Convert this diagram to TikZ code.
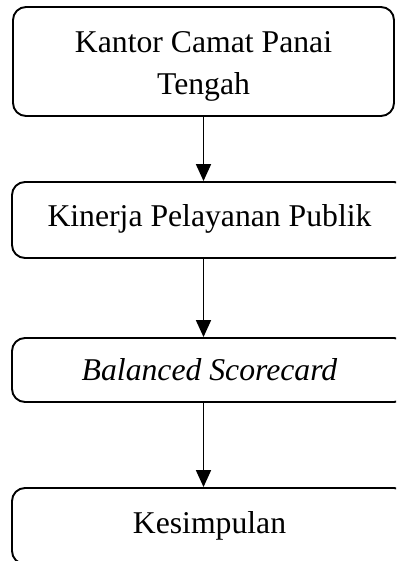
\documentclass[tikz,border=0pt]{standalone}
\usepackage{fontspec}
\setmainfont{Liberation Serif}
\usetikzlibrary{arrows.meta}
\begin{document}
\begin{tikzpicture}[x=1pt,y=-1pt,
  box/.style={draw, line width=1.9pt, rounded corners=13pt, inner sep=0pt},
  txt/.style={inner sep=0pt, align=center, font=\fontsize{31.7}{42}\selectfont},
  conn/.style={line width=1.8pt, -{Triangle[length=17pt,width=15pt]}}]
\useasboundingbox (0,0) rectangle (396,561);
\clip (0,0) rectangle (396,561);
\node[box, minimum width=381pt, minimum height=109pt] (b1) at (203.5,61.5) {};
\node[txt] (t1) at ([yshift=-5pt]b1.center) {Kantor Camat Panai\\Tengah};
\node[box, minimum width=395pt, minimum height=76pt] (b2) at (209.5,220) {};
\node[txt] (t2) at ([yshift=1pt]b2.center) {Kinerja Pelayanan Publik};
\node[box, minimum width=395pt, minimum height=64pt] (b3) at (209.5,370) {};
\node[txt] (t3) at (b3.center) {\itshape Balanced Scorecard};
\node[box, minimum width=395pt, minimum height=76pt] (b4) at (209.5,526) {};
\node[txt] (t4) at (b4.center) {Kesimpulan};
\draw[conn] (b1.south) -- (b1.south |- b2.north);
\draw[conn] (b1.south |- b2.south) -- (b1.south |- b3.north);
\draw[conn] (b1.south |- b3.south) -- (b1.south |- b4.north);
\end{tikzpicture}
\end{document}
